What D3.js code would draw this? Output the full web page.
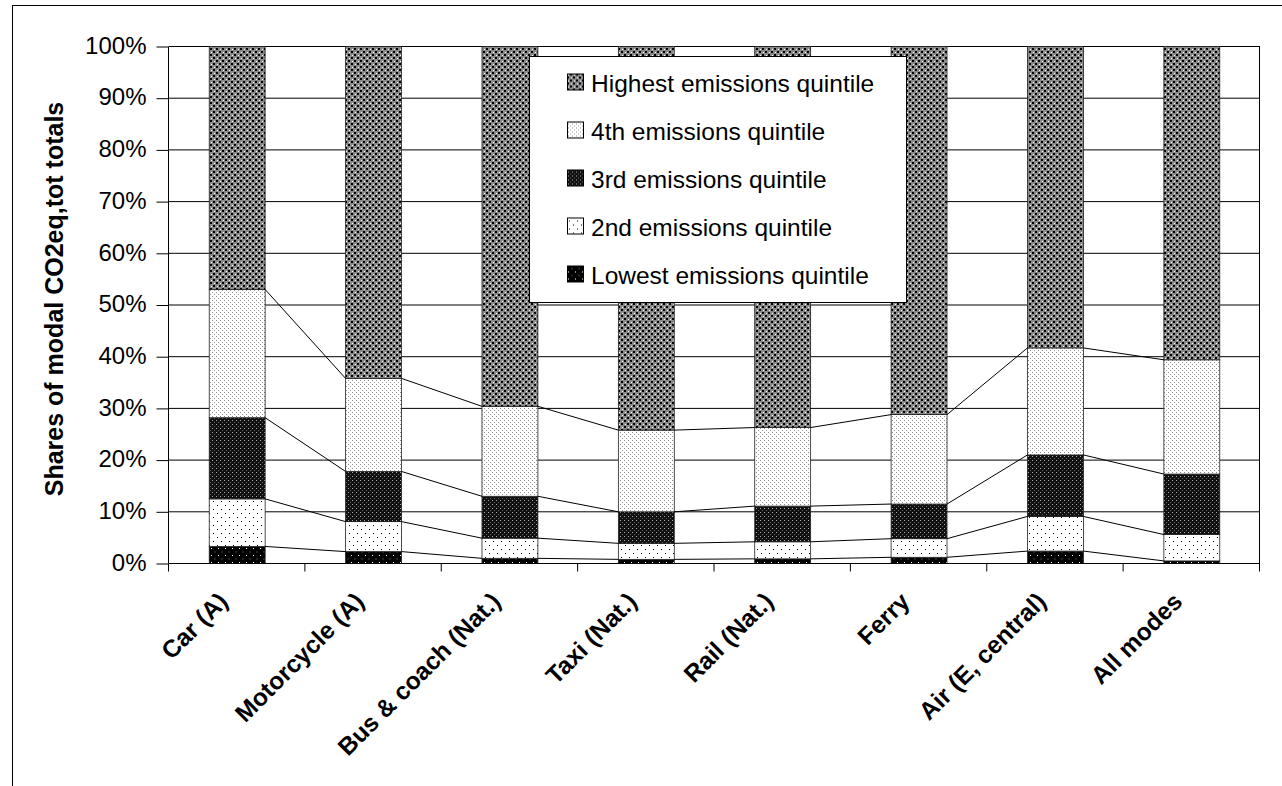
<!DOCTYPE html>
<html>
<head>
<meta charset="utf-8">
<script src="https://cdn.jsdelivr.net/npm/d3@7"></script>
<style>
  html, body { margin: 0; padding: 0; background: #fff; }
  svg { display: block; }
  text { font-family: "Liberation Sans", Arial, sans-serif; fill: #000; }
</style>
</head>
<body>
<svg id="chart" width="1282" height="786"></svg>
<script>
// ---- data ----
const categories = ["Car (A)", "Motorcycle (A)", "Bus & coach (Nat.)", "Taxi (Nat.)", "Rail (Nat.)", "Ferry", "Air (E, central)", "All modes"];
const lowestQuintile  = [3.3, 2.3, 1.0, 0.8, 0.9, 1.2, 2.4, 0.5];
const secondQuintile  = [9.2, 5.8, 3.9, 3.1, 3.3, 3.6, 6.7, 5.1];
const thirdQuintile   = [15.7, 9.7, 8.1, 6.1, 6.9, 6.7, 11.9, 11.7];
const fourthQuintile  = [24.8, 18.0, 17.4, 15.8, 15.2, 17.3, 20.7, 22.1];
const highestQuintile = [47.0, 64.2, 69.6, 74.2, 73.7, 71.2, 58.3, 60.6];
const seriesNames = ["Lowest emissions quintile", "2nd emissions quintile", "3rd emissions quintile", "4th emissions quintile", "Highest emissions quintile"];
const yTickValues = [0, 10, 20, 30, 40, 50, 60, 70, 80, 90, 100];
const yTickLabels = ["0%", "10%", "20%", "30%", "40%", "50%", "60%", "70%", "80%", "90%", "100%"];
const yTitle = "Shares of modal CO2eq,tot totals";

const seriesValues = [lowestQuintile, secondQuintile, thirdQuintile, fourthQuintile, highestQuintile];
const table = categories.map((c, i) => {
  const row = { cat: c };
  seriesNames.forEach((s, j) => row[s] = seriesValues[j][i]);
  return row;
});

const svg = d3.select("#chart");

// ---- patterns ----
const defs = svg.append("defs");
function pat(id, size, bg, dots) {
  const p = defs.append("pattern").attr("id", id).attr("patternUnits", "userSpaceOnUse")
    .attr("width", size).attr("height", size);
  p.append("rect").attr("width", size).attr("height", size).attr("fill", bg);
  dots.forEach(d => p.append("rect").attr("x", d[0]).attr("y", d[1]).attr("width", d[2]).attr("height", d[2]).attr("fill", d[3]));
}
pat("pLow", 7, "#000", [[1, 2, 1, "#fff"], [4.5, 5.5, 1, "#888"]]);
pat("p2nd", 8, "#fff", [[1, 1, 1, "#000"], [5, 5, 1, "#000"]]);
pat("p3rd", 4, "#111", [[0, 0, 1, "#aaa"], [2, 2, 1, "#666"]]);
pat("p4th", 4, "#fff", [[0, 0, 1, "#888"], [2, 2, 1, "#999"]]);
pat("pHigh", 6, "#8a8a8a", [[0, 0, 2, "#000"], [3, 3, 2, "#000"], [4, 1, 1, "#fff"], [1, 4, 1, "#fff"]]);
const fills = ["url(#pLow)", "url(#p2nd)", "url(#p3rd)", "url(#p4th)", "url(#pHigh)"];

// ---- frame ----
svg.append("rect").attr("x", 12.5).attr("y", 5.5).attr("width", 1300).attr("height", 800)
  .attr("fill", "#fff").attr("stroke", "#000").attr("stroke-width", 1);

// ---- scales ----
const x = d3.scaleBand().domain(categories).range([169, 1260]).paddingInner(0.59).paddingOuter(0.295);
const y = d3.scaleLinear().domain([0, 100]).range([563.5, 46.5]);
const xl = x.range()[0], xr = x.range()[1];

// gridlines
svg.append("g").selectAll("line").data(yTickValues).join("line")
  .attr("x1", xl).attr("x2", xr).attr("y1", d => y(d)).attr("y2", d => y(d))
  .attr("stroke", "#000").attr("stroke-width", 1);
// plot right border
svg.append("line").attr("x1", xr - 0.5).attr("x2", xr - 0.5).attr("y1", y(100)).attr("y2", y(0))
  .attr("stroke", "#000");

// ---- stack ----
const stacked = d3.stack().keys(seriesNames)(table);

svg.append("g").selectAll("g").data(stacked).join("g")
  .attr("fill", (d, i) => fills[i])
  .selectAll("rect").data(d => d).join("rect")
  .attr("x", d => x(d.data.cat))
  .attr("width", x.bandwidth())
  .attr("y", d => y(d[1]))
  .attr("height", d => y(d[0]) - y(d[1]))
  .attr("stroke", "#222").attr("stroke-width", 0.8);

// series lines
const sl = svg.append("g").attr("stroke", "#000").attr("stroke-width", 1).attr("fill", "none");
stacked.slice(0, 4).forEach(s => {
  for (let i = 0; i < s.length - 1; i++) {
    sl.append("line")
      .attr("x1", x(s[i].data.cat) + x.bandwidth()).attr("y1", y(s[i][1]))
      .attr("x2", x(s[i + 1].data.cat)).attr("y2", y(s[i + 1][1]));
  }
});

// ---- axes ----
const yAxis = d3.axisLeft(y).tickValues(yTickValues).tickFormat((d, i) => yTickLabels[i])
  .tickSize(12).tickPadding(10);
const gy = svg.append("g").attr("transform", `translate(${xl - 0.5},0)`).call(yAxis);
gy.selectAll("path,line").attr("stroke", "#000");
gy.select(".domain").attr("d", `M0,${y(100)}V${y(0)}`);
gy.selectAll("text").attr("font-size", 24).attr("font-family", "Liberation Sans, Arial").attr("dy", "0.28em").attr("fill", "#000");

// x axis baseline and ticks at band boundaries
svg.append("line").attr("x1", xl).attr("x2", xr).attr("y1", y(0)).attr("y2", y(0)).attr("stroke", "#000");
svg.append("g").selectAll("line").data(d3.range(categories.length + 1)).join("line")
  .attr("x1", i => xl - 0.5 + i * x.step()).attr("x2", i => xl - 0.5 + i * x.step())
  .attr("y1", y(0)).attr("y2", y(0) + 8).attr("stroke", "#000");

// category labels
svg.append("g").selectAll("text").data(categories).join("text")
  .attr("transform", d => `translate(${x(d) + x.bandwidth() / 2 - 14},597) rotate(-45)`)
  .attr("text-anchor", "end").attr("dy", "0.35em")
  .attr("font-size", 24.5).attr("font-weight", "bold")
  .text(d => d);

// y title
svg.append("text")
  .attr("transform", `translate(54,299) rotate(-90)`)
  .attr("text-anchor", "middle").attr("dy", "0.35em")
  .attr("font-size", 25).attr("font-weight", "bold")
  .text(yTitle);

// ---- legend ----
const lg = svg.append("g");
lg.append("rect").attr("x", 529.5).attr("y", 56.5).attr("width", 377).attr("height", 246)
  .attr("fill", "#fff").attr("stroke", "#000");
const legendOrder = seriesNames.map((s, i) => ({ s, i })).reverse();
const items = lg.selectAll("g").data(legendOrder).join("g")
  .attr("transform", (d, k) => `translate(0,${91.5 + k * 48})`);
items.append("rect").attr("x", 567.5).attr("y", -17.5).attr("width", 16).attr("height", 16)
  .attr("fill", d => fills[d.i]).attr("stroke", "#000");
items.append("text").attr("x", 591).attr("y", 0).attr("font-size", 24.5).text(d => d.s);
</script>
</body>
</html>
